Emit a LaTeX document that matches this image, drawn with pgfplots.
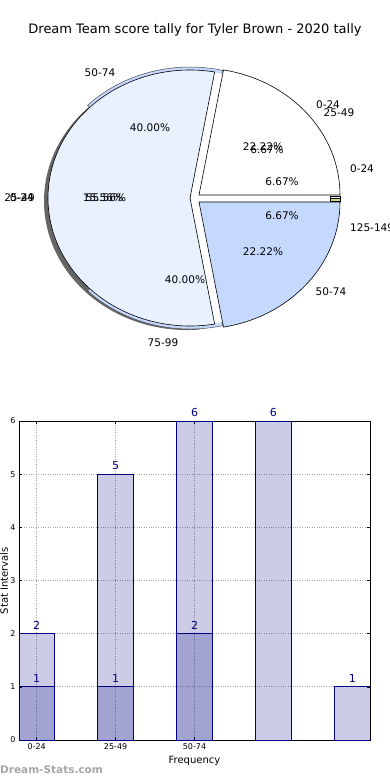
\documentclass[border=0pt]{standalone}
\usepackage{pgfplots}
\pgfplotsset{compat=1.18}
\usepackage{fontspec}
\setmainfont{DejaVu Sans}
\definecolor{pieL}{RGB}{234,241,254}
\definecolor{pieB}{RGB}{197,217,255}
\definecolor{pieG}{RGB}{204,221,136}
\definecolor{barN}{RGB}{0,0,128}
\definecolor{wm}{RGB}{165,165,165}
\newcommand{\pl}{\fontsize{10.5}{12}\selectfont}
\begin{document}
\begin{tikzpicture}
\useasboundingbox (0,0) rectangle (390pt,-780pt);
% pie 1 shares (percent)
\def\pA{22.22}\def\pB{55.56}\def\pC{22.22}
\pgfmathsetmacro\aA{3.6*\pA}
\pgfmathsetmacro\aB{\aA+3.6*\pB}
\begin{axis}[at={(0pt,0pt)}, anchor=north west, scale only axis,
  width=390pt, height=390pt, xmin=0, xmax=390, ymin=0, ymax=390,
  y dir=reverse, hide axis, clip=false]
% shadow
\fill[black!60] (axis cs:187,201) -- ++(85:143pt and 129pt)
  arc[start angle=85, end angle=275, x radius=143pt, y radius=129pt] -- cycle;
% rim of the second pie
\fill[pieB, draw=black!70, line width=0.5pt] (axis cs:190,198) -- ++(77:145pt and 131pt)
  arc[start angle=77, end angle=135, x radius=145pt, y radius=131pt] -- cycle;
\fill[pieB, draw=black!70, line width=0.5pt] (axis cs:190,198) -- ++(225:145pt and 131pt)
  arc[start angle=225, end angle=283, x radius=145pt, y radius=131pt] -- cycle;
\fill[white] (axis cs:190,198) -- ++(70:141pt and 127.5pt)
  arc[start angle=70, end angle=290, x radius=141pt, y radius=127.5pt] -- cycle;
% sliver
\filldraw[fill=white, draw=black, line width=0.4pt] (axis cs:330,196) rectangle (axis cs:340,198.6);
\filldraw[fill=pieG, draw=black, line width=0.4pt] (axis cs:330,198.6) rectangle (axis cs:340,201.2);
% pie 1 slices
\filldraw[fill=white, draw=black, line width=0.6pt] (axis cs:199,195) -- ++(0:141pt and 127pt)
  arc[start angle=0, end angle=\aA, x radius=141pt, y radius=127pt] -- cycle;
\filldraw[fill=pieL, draw=black, line width=0.6pt] (axis cs:190,198) -- ++(\aA:142pt and 128pt)
  arc[start angle=\aA, end angle=\aB, x radius=142pt, y radius=128pt] -- cycle;
\filldraw[fill=pieB, draw=black, line width=0.6pt] (axis cs:199,202) -- ++(\aB:141pt and 127pt)
  arc[start angle=\aB, end angle=360, x radius=141pt, y radius=127pt] -- cycle;
% labels
\node[font=\fontsize{13}{15}\selectfont] at (axis cs:195,30) {Dream Team score tally for Tyler Brown - 2020 tally};
\node[font=\pl] at (axis cs:100,73) {50-74};
\node[font=\pl] at (axis cs:150,128) {40.00\%};
\node[font=\pl] at (axis cs:328,105) {0-24};
\node[font=\pl] at (axis cs:339,113) {25-49};
\node[font=\pl] at (axis cs:263,147) {22.22\%};
\node[font=\pl] at (axis cs:267,150) {6.67\%};
\node[font=\pl] at (axis cs:362,169) {0-24};
\node[font=\pl] at (axis cs:282,182) {6.67\%};
\node[font=\pl, anchor=east, inner sep=0pt] at (axis cs:35,198) {25-49};
\node[font=\pl, anchor=east, inner sep=0pt] at (axis cs:34,198) {0-24};
\node[font=\pl] at (axis cs:103,198) {15.56\%};
\node[font=\pl] at (axis cs:106,198) {55.56\%};
\node[font=\pl] at (axis cs:282,216) {6.67\%};
\node[font=\pl, anchor=west, inner sep=0pt] at (axis cs:350,228) {125-149};
\node[font=\pl] at (axis cs:263,252) {22.22\%};
\node[font=\pl] at (axis cs:185,280) {40.00\%};
\node[font=\pl] at (axis cs:331,292) {50-74};
\node[font=\pl] at (axis cs:163,343) {75-99};
\node[font=\bfseries\fontsize{10.5}{12}\selectfont, text=wm, anchor=west, inner sep=0pt] at (axis cs:0,770) {Dream-Stats.com};
\end{axis}
\begin{axis}[at={(19pt,-740pt)}, anchor=south west, scale only axis,
  width=351pt, height=319pt,
  xmin=-0.225, xmax=4.225, ymin=0, ymax=6,
  ytick={0,1,2,3,4,5,6}, xtick={0,1,2}, xticklabels={0-24,25-49,50-74},
  tick align=inside, major tick length=3pt, tick style={black, line width=0.6pt},
  axis line style={line width=0.8pt},
  grid=major, grid style={dotted, gray!70, line width=0.8pt},
  ticklabel style={font=\fontsize{8}{9}\selectfont},
  /pgf/number format/assume math mode=true,
  xlabel={Frequency}, ylabel={Stat Intervals},
  label style={font=\fontsize{10}{12}\selectfont},
  xlabel style={at={(axis description cs:0.5,0)}, anchor=north, inner sep=0pt, yshift=-16pt},
  ylabel style={at={(axis description cs:-0.031,0.5)}, anchor=south, inner sep=0pt},
  nodes near coords,
  every node near coord/.append style={font=\fontsize{11}{13}\selectfont, text=barN, text opacity=1, yshift=0.5pt},
]
\addplot[ybar, bar shift=0pt, bar width=0.45, fill=barN, fill opacity=0.2, draw=barN, draw opacity=1, line width=0.8pt]
  coordinates {(0,2) (1,5) (2,6) (3,6) (4,1)};
\addplot[ybar, bar shift=0pt, bar width=0.45, fill=barN, fill opacity=0.2, draw=barN, draw opacity=1, line width=0.8pt]
  coordinates {(0,1) (1,1) (2,2)};
\end{axis}
\end{tikzpicture}
\end{document}
